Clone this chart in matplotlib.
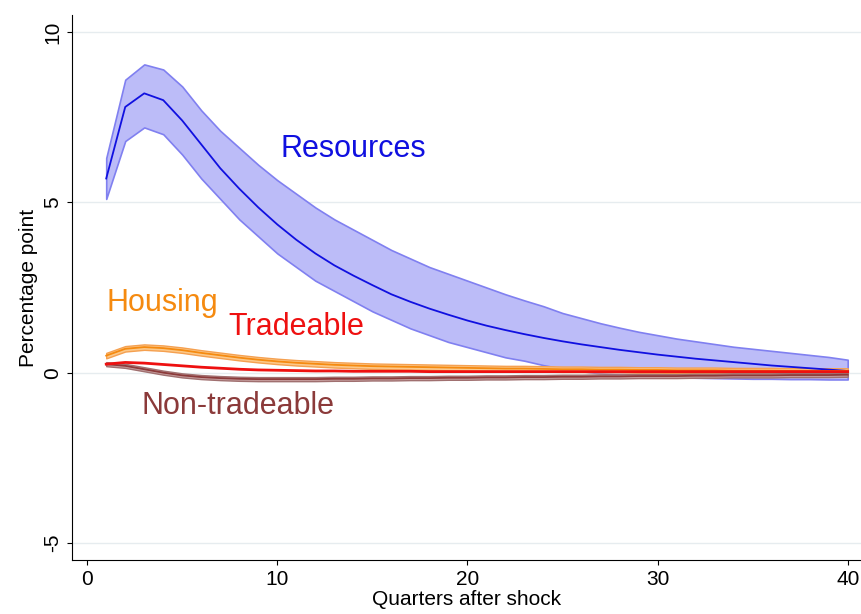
import numpy as np
import matplotlib
matplotlib.use("Agg")
import matplotlib.pyplot as plt
plt.rcParams['font.family'] = ['Liberation Sans', 'DejaVu Sans']

q = np.arange(1, 41)
res = [5.7,7.8,8.2,8.0,7.4,6.7,6.0,5.4,4.85,4.35,3.9,3.5,3.15,2.85,2.57,2.3,2.08,1.88,1.7,1.53,
       1.38,1.25,1.13,1.02,0.92,0.83,0.75,0.67,0.6,0.53,0.47,0.41,0.36,0.31,0.26,0.21,0.17,0.13,0.09,0.05]
res_lo = [5.1,6.8,7.2,7.0,6.4,5.7,5.1,4.5,4.0,3.5,3.1,2.7,2.4,2.1,1.8,1.55,1.3,1.1,0.9,0.75,
          0.6,0.45,0.35,0.22,0.12,0.04,-0.02,-0.06,-0.1,-0.12,-0.14,-0.15,-0.16,-0.17,-0.18,-0.18,-0.19,-0.19,-0.2,-0.2]
res_hi = [6.3,8.6,9.05,8.9,8.4,7.7,7.1,6.6,6.1,5.65,5.25,4.85,4.5,4.2,3.9,3.6,3.35,3.1,2.9,2.7,
          2.5,2.3,2.12,1.95,1.75,1.6,1.45,1.32,1.2,1.1,1.0,0.92,0.84,0.76,0.7,0.64,0.58,0.52,0.46,0.38]
hou = [0.5,0.7,0.75,0.72,0.66,0.58,0.51,0.44,0.38,0.33,0.29,0.26,0.23,0.21,0.19,0.18,0.17,0.16,0.15,0.14,
       0.13,0.12,0.12,0.11,0.1,0.1,0.09,0.09,0.08,0.08,0.07,0.07,0.07,0.06,0.06,0.06,0.05,0.05,0.05,0.05]
tra = [0.25,0.3,0.28,0.24,0.2,0.16,0.13,0.1,0.08,0.07,0.06,0.05,0.05,0.04,0.04,0.04,0.04,0.03,0.03,0.03,
       0.03,0.03,0.03,0.03,0.03,0.03,0.03,0.03,0.03,0.03,0.03,0.03,0.03,0.03,0.03,0.03,0.03,0.03,0.03,0.03]
non = [0.25,0.2,0.1,0.0,-0.08,-0.13,-0.16,-0.18,-0.19,-0.19,-0.19,-0.19,-0.18,-0.18,-0.17,-0.17,-0.16,-0.16,-0.15,-0.15,
       -0.14,-0.14,-0.13,-0.13,-0.12,-0.12,-0.11,-0.11,-0.1,-0.1,-0.1,-0.09,-0.09,-0.08,-0.08,-0.08,-0.07,-0.07,-0.07,-0.06]

fig = plt.figure(figsize=(8.61, 6.14), dpi=100)
ax = fig.add_axes([72/861, 54/614, 789/861, 545/614])
ax.set_xlim(-0.8, 40.7)
ax.set_ylim(-5.5, 10.5)
for y in [-5, 0, 5, 10]:
    ax.axhline(y, color="#e6ecef", lw=1, zorder=0)

res, res_lo, res_hi = map(np.array, (res, res_lo, res_hi))
hou, tra, non = map(np.array, (hou, tra, non))
ax.fill_between(q, res_lo, res_hi, color="#bcbcf8", edgecolor="#8080f0", lw=1.2)
ax.plot(q, res, color="#1010e0", lw=1.3)
ax.fill_between(q, hou - 0.08, hou + 0.08, color="#fcc98a", edgecolor="#f5a050", lw=1)
ax.plot(q, hou, color="#f58a10", lw=1.3)
ax.fill_between(q, non - 0.06, non + 0.06, color="#c8a0a0", edgecolor="#a07070", lw=1)
ax.plot(q, non, color="#8b3a3a", lw=1.3)
ax.plot(q, tra, color="#ee1010", lw=2)

fs = 22
ax.text(14, 6.57, "Resources", color="#1010e0", fontsize=fs, ha="center", va="center")
ax.text(3.95, 2.05, "Housing", color="#f58a10", fontsize=fs, ha="center", va="center")
ax.text(11, 1.35, "Tradeable", color="#ee1010", fontsize=fs, ha="center", va="center")
ax.text(7.95, -0.97, "Non-tradeable", color="#8b3a3a", fontsize=fs, ha="center", va="center")

ax.set_xticks([0, 10, 20, 30, 40])
ax.set_yticks([-5, 0, 5, 10])
ax.set_yticklabels(["-5", "0", "5", "10"], rotation=90, va="center")
ax.tick_params(labelsize=15)
ax.spines["top"].set_visible(False)
ax.spines["right"].set_visible(False)
ax.set_xlabel("Quarters after shock", fontsize=15, labelpad=1)
ax.set_ylabel("Percentage point", fontsize=15)
fig.savefig("out.png")
